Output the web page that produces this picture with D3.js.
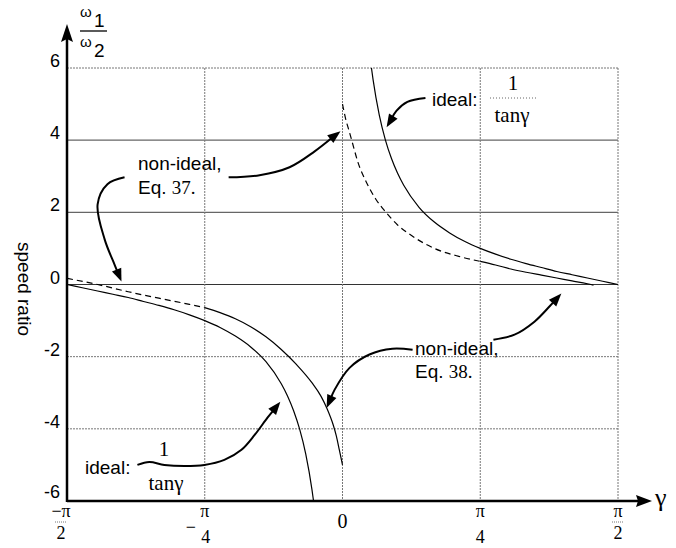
<!DOCTYPE html>
<html><head><meta charset="utf-8">
<script src="https://cdn.jsdelivr.net/npm/d3@7"></script>
<style>body{margin:0;background:#fff}</style>
</head><body><svg id="c" width="676" height="548"></svg>
<script>
// ---- data ----
const yTicks=[6,4,2,0,-2,-4,-6];
const yTickLabels=["6","4","2","0","-2","-4","-6"];
const xTicks=[-90,-45,0,45,90];           // degrees
const xTickNum=["−π","π","0","π","π"];
const xTickDen=["2","4","","4","2"];
const idealR_g=[9.46,10,12,14,16,18,20,25,30,35,40,45,50,55,60,65,70,75,80,85,90];
const idealR_v=[6,5.67,4.70,4.01,3.49,3.08,2.75,2.14,1.73,1.43,1.19,1.0,0.84,0.70,0.58,0.47,0.36,0.27,0.18,0.09,0];
const idealL_g=[-90,-85,-80,-75,-70,-65,-60,-55,-50,-45,-40,-35,-30,-25,-20,-18,-16,-14,-12,-10,-9.46];
const idealL_v=[0,-0.09,-0.18,-0.27,-0.36,-0.47,-0.58,-0.70,-0.84,-1.0,-1.19,-1.43,-1.73,-2.14,-2.75,-3.08,-3.49,-4.01,-4.70,-5.67,-6];
const eq37L_g=[-90,-80,-70,-60,-50,-45];
const eq37L_v=[0.17,0.0,-0.2,-0.38,-0.55,-0.64];
const eq38L_g=[-45,-40,-35,-30,-25,-20,-15,-10,-7,-5,-3,-2,-1,0];
const eq38L_v=[-0.64,-0.78,-0.95,-1.17,-1.45,-1.80,-2.22,-2.72,-3.1,-3.45,-3.9,-4.2,-4.6,-5.0];
const eq37R_g=[0,1,2,3,5,8,11,14,18,23,30,38,45];
const eq37R_v=[5.0,4.6,4.3,4.0,3.4,2.8,2.35,2.02,1.65,1.33,1.0,0.78,0.64];
const eq38R_g=[45,50,55,60,65,70,75,80,82];
const eq38R_v=[0.64,0.54,0.43,0.34,0.26,0.18,0.1,0.02,-0.02];

// annotation arrows (data coords: [gamma deg, value])
const arrows=[
  [[27.1,5.17],[21.2,5.06],[17.6,4.81],[14.4,4.36]],
  [[-37.2,2.97],[-27.1,3.03],[-17.3,3.25],[-9.1,3.69],[-0.65,4.25]],
  [[-71.2,2.97],[-76.8,2.78],[-80.0,2.22],[-77.7,1.25],[-74.5,0.56],[-72.2,0.08]],
  [[49.3,-1.53],[56.2,-1.39],[62.7,-1.03],[67.6,-0.61],[71.5,-0.25]],
  [[22.9,-1.81],[16.3,-1.78],[8.8,-1.94],[2.3,-2.31],[-2.6,-2.92],[-5.2,-3.42]],
  [[-67.0,-5.0],[-63.1,-4.92],[-58.2,-5.0],[-51.6,-5.03],[-45.1,-5.0],[-38.6,-4.86],[-33.0,-4.58],[-28.7,-4.17],[-24.5,-3.69],[-20.3,-3.25]]
];

// ---- drawing ----
const svg=d3.select("#c");
const x=d3.scaleLinear().domain([-90,90]).range([67,618]);
const y=d3.scaleLinear().domain([-6,6]).range([501,68]);
const sans="Liberation Sans, Arial, sans-serif";
const serif="Liberation Serif, Times New Roman, serif";

// grid
const solidH=[4,2,0];
svg.append("g").selectAll("line").data(yTicks.filter(v=>v!==-6)).join("line")
  .attr("x1",x(-90)).attr("x2",x(90)).attr("y1",d=>y(d)).attr("y2",d=>y(d))
  .attr("stroke",d=>d===0?"#333":(solidH.includes(d)?"#666":"#777"))
  .attr("stroke-width",d=>solidH.includes(d)?1.2:1)
  .attr("stroke-dasharray",d=>solidH.includes(d)?null:"2,1");
svg.append("g").selectAll("line").data(xTicks.filter(v=>v!==-90)).join("line")
  .attr("x1",d=>x(d)).attr("x2",d=>x(d)).attr("y1",y(6)).attr("y2",y(-6))
  .attr("stroke","#777").attr("stroke-width",1).attr("stroke-dasharray","2,1");

// curves
const line=d3.line().x(d=>x(d[0])).y(d=>y(d[1])).curve(d3.curveMonotoneX);
const zip=(g,v)=>g.map((d,i)=>[d,v[i]]);
const curves=[
  {d:zip(idealR_g,idealR_v),dash:null},
  {d:zip(idealL_g,idealL_v),dash:null},
  {d:zip(eq37L_g,eq37L_v),dash:"6,4"},
  {d:zip(eq38L_g,eq38L_v),dash:null},
  {d:zip(eq37R_g,eq37R_v),dash:"6,4"},
  {d:zip(eq38R_g,eq38R_v),dash:null}
];
svg.append("g").selectAll("path").data(curves).join("path")
  .attr("d",c=>line(c.d)).attr("fill","none").attr("stroke","#000")
  .attr("stroke-width",1.2).attr("stroke-dasharray",c=>c.dash);

// axes
svg.append("line").attr("x1",x(-90)).attr("x2",640).attr("y1",y(-6)).attr("y2",y(-6))
  .attr("stroke","#000").attr("stroke-width",2.5);
svg.append("path").attr("d",`M652,${y(-6)} L636,${y(-6)-6} L638,${y(-6)} L636,${y(-6)+6} Z`).attr("fill","#000");
svg.append("line").attr("x1",x(-90)).attr("x2",x(-90)).attr("y1",y(-6)+1).attr("y2",38)
  .attr("stroke","#000").attr("stroke-width",2.5);
svg.append("path").attr("d",`M${x(-90)},24 L${x(-90)-6},42 L${x(-90)},39 L${x(-90)+6},42 Z`).attr("fill","#000");

// y tick labels
svg.append("g").selectAll("text").data(yTicks).join("text")
  .attr("x",60).attr("y",d=>y(d)-(d===-6?9:7)).attr("text-anchor","end").attr("dominant-baseline","central")
  .attr("font-family",sans).attr("font-size",18).text((d,i)=>yTickLabels[i]);

// x tick labels
const xl=svg.append("g").attr("font-family",serif).attr("font-size",18).attr("text-anchor","middle");
xTicks.forEach((v,i)=>{
  const cx=x(v)+(i===0?-6:(i===1?-3:0));
  if(xTickDen[i]===""){
    xl.append("text").attr("x",cx).attr("y",528).attr("font-size",20).text(xTickNum[i]);
    return;
  }
  const isHalf=xTickDen[i]==="2";
  if(i===1){
    xl.append("text").attr("x",cx+3).attr("y",517).text("π");
    xl.append("text").attr("x",cx-11).attr("y",533).text("−");
    xl.append("text").attr("x",cx+4).attr("y",543).text(xTickDen[i]);
  } else {
    xl.append("text").attr("x",cx).attr("y",517).text(xTickNum[i]);
    xl.append("text").attr("x",cx).attr("y",isHalf?539:543).text(xTickDen[i]);
    if(isHalf) xl.append("line").attr("x1",cx-6).attr("x2",cx+6).attr("y1",522).attr("y2",522)
      .attr("stroke","#777").attr("stroke-width",1).attr("stroke-dasharray","1,1");
  }
});
svg.append("text").attr("x",655).attr("y",506).attr("font-family",serif).attr("font-size",26).text("γ");

// y axis label
const yl=svg.append("g").attr("font-family",sans);
yl.append("text").attr("x",80).attr("y",17).attr("font-size",15).text("ω");
yl.append("text").attr("x",94).attr("y",27).attr("font-size",19).text("1");
yl.append("line").attr("x1",80).attr("x2",107).attr("y1",31).attr("y2",31).attr("stroke","#000").attr("stroke-width",1.3);
yl.append("text").attr("x",80).attr("y",47).attr("font-size",15).text("ω");
yl.append("text").attr("x",94).attr("y",57).attr("font-size",19).text("2");
svg.append("text").attr("transform","translate(18,289) rotate(90)").attr("text-anchor","middle")
  .attr("font-family",sans).attr("font-size",19).text("speed ratio");

// annotation texts
const ann=svg.append("g").attr("font-family",sans).attr("font-size",19);
ann.append("text").attr("x",432).attr("y",106).text("ideal:");
const t1=ann.append("text").attr("x",138).attr("y",170);t1.text("non-ideal,");
const t2=ann.append("text").attr("x",138).attr("y",194);
t2.append("tspan").text("Eq. ");t2.append("tspan").attr("font-family",serif).text("37.");
ann.append("text").attr("x",415).attr("y",355).text("non-ideal,");
const t3=ann.append("text").attr("x",415).attr("y",378);
t3.append("tspan").text("Eq. ");t3.append("tspan").attr("font-family",serif).text("38.");
ann.append("text").attr("x",85).attr("y",474).text("ideal:");
// fractions
const fr=svg.append("g").attr("font-family",serif).attr("font-size",21).attr("text-anchor","middle");
fr.append("text").attr("x",513).attr("y",90).text("1");
fr.append("line").attr("x1",490).attr("x2",537).attr("y1",98).attr("y2",98).attr("stroke","#666").attr("stroke-dasharray","1,2");
fr.append("text").attr("x",512).attr("y",122).text("tanγ");
fr.append("text").attr("x",164).attr("y",456).text("1");
fr.append("text").attr("x",166).attr("y",490).text("tanγ");

// arrows
const aline=d3.line().x(d=>x(d[0])).y(d=>y(d[1])).curve(d3.curveCatmullRom);
arrows.forEach(a=>{
  const n=a.length;
  const tip=[x(a[n-1][0]),y(a[n-1][1])], prev=[x(a[n-2][0]),y(a[n-2][1])];
  const ang=Math.atan2(tip[1]-prev[1],tip[0]-prev[0]);
  const L=13,W=5;
  const bx=tip[0]-L*Math.cos(ang), by=tip[1]-L*Math.sin(ang);
  const pts=a.slice(0,n-1).concat([[x.invert(bx+3*Math.cos(ang)),y.invert(by+3*Math.sin(ang))]]);
  svg.append("path").attr("d",aline(pts)).attr("fill","none").attr("stroke","#000").attr("stroke-width",2);
  const p1=[bx+W*Math.sin(ang),by-W*Math.cos(ang)], p2=[bx-W*Math.sin(ang),by+W*Math.cos(ang)];
  svg.append("path").attr("d",`M${tip[0]},${tip[1]} L${p1[0]},${p1[1]} L${p2[0]},${p2[1]} Z`).attr("fill","#000");
});
</script></body></html>
